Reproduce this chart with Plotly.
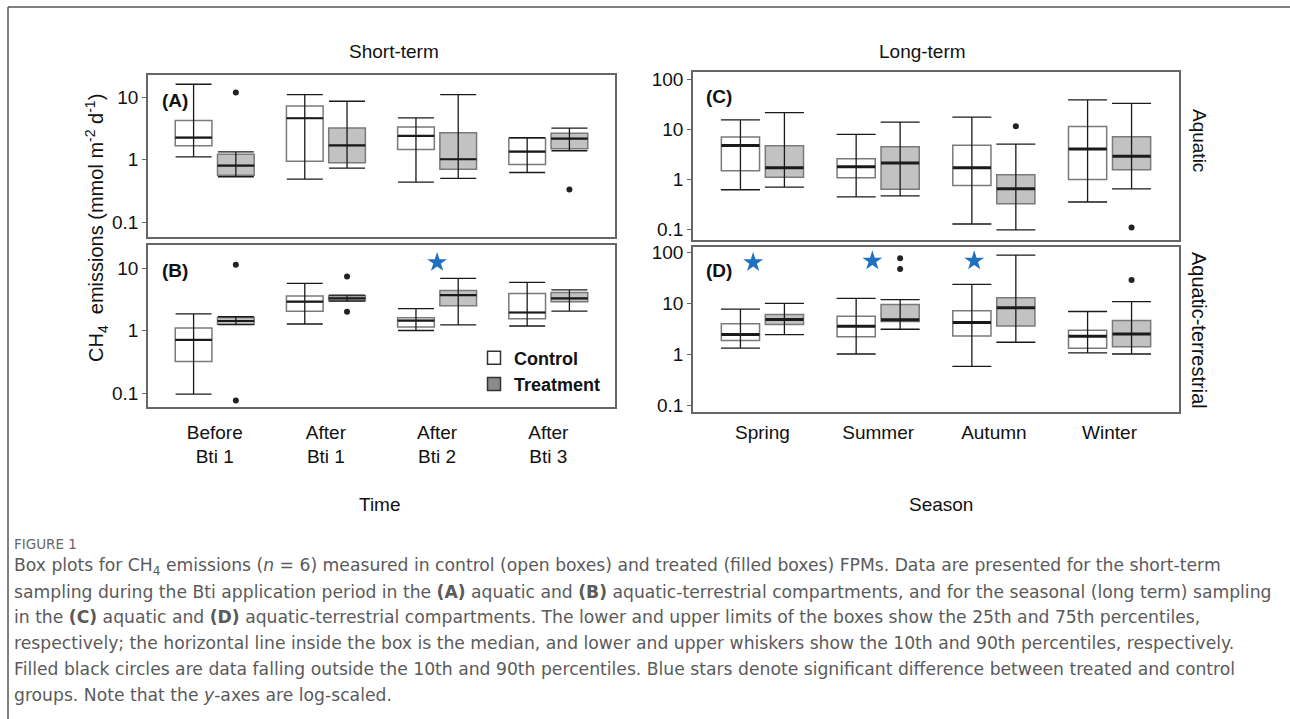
import plotly.graph_objects as go

W, H = 1290, 719

short_cats = ["Before<br>Bti 1", "After<br>Bti 1", "After<br>Bti 2", "After<br>Bti 3"]
long_cats = ["Spring", "Summer", "Autumn", "Winter"]

# ---- Panel A (short-term, aquatic)
A_ctrl_p10 = [1.10, 0.485, 0.435, 0.62]
A_ctrl_q1 = [1.66, 0.94, 1.45, 0.83]
A_ctrl_med = [2.24, 4.57, 2.38, 1.34]
A_ctrl_q3 = [4.2, 7.2, 3.3, 2.19]
A_ctrl_p90 = [16.0, 10.9, 4.62, 2.24]
A_trt_p10 = [0.53, 0.73, 0.50, 1.38]
A_trt_q1 = [0.56, 0.89, 0.70, 1.49]
A_trt_med = [0.80, 1.68, 1.01, 2.16]
A_trt_q3 = [1.21, 3.18, 2.69, 2.62]
A_trt_p90 = [1.32, 8.55, 10.9, 3.18]
A_trt_out_idx = [0, 3]
A_trt_out_val = [11.8, 0.33]

# ---- Panel B (short-term, aquatic-terrestrial)
B_ctrl_p10 = [0.096, 1.27, 1.0, 1.18]
B_ctrl_q1 = [0.32, 2.04, 1.14, 1.54]
B_ctrl_med = [0.71, 2.89, 1.44, 1.94]
B_ctrl_q3 = [1.10, 3.55, 1.6, 3.9]
B_ctrl_p90 = [1.85, 5.67, 2.24, 5.88]
B_trt_p10 = [1.24, 2.96, 1.23, 2.04]
B_trt_q1 = [1.26, 2.98, 2.5, 2.89]
B_trt_med = [1.42, 3.26, 3.67, 3.26]
B_trt_q3 = [1.62, 3.6, 4.35, 4.05]
B_trt_p90 = [1.66, 3.68, 6.8, 4.46]
B_trt_out_idx = [0, 0, 1, 1]
B_trt_out_val = [11.3, 0.076, 7.3, 1.99]
B_star_idx = [2]
B_star_val = [12.3]

# ---- Panel C (long-term, aquatic)
C_ctrl_p10 = [0.61, 0.44, 0.126, 0.347]
C_ctrl_q1 = [1.46, 1.06, 0.74, 0.98]
C_ctrl_med = [4.67, 1.75, 1.67, 3.96]
C_ctrl_q3 = [6.92, 2.55, 4.75, 11.2]
C_ctrl_p90 = [15.2, 7.8, 17.2, 38.2]
C_trt_p10 = [0.685, 0.46, 0.096, 0.635]
C_trt_q1 = [1.08, 0.625, 0.32, 1.53]
C_trt_med = [1.67, 2.1, 0.635, 2.84]
C_trt_q3 = [4.6, 4.4, 1.22, 7.03]
C_trt_p90 = [21.2, 13.7, 4.97, 32.4]
C_trt_out_idx = [2, 3]
C_trt_out_val = [11.4, 0.107]

# ---- Panel D (long-term, aquatic-terrestrial)
D_ctrl_p10 = [1.31, 1.0, 0.57, 1.05]
D_ctrl_q1 = [1.83, 2.19, 2.26, 1.29]
D_ctrl_med = [2.4, 3.51, 4.14, 2.23]
D_ctrl_q3 = [3.9, 5.52, 7.03, 2.92]
D_ctrl_p90 = [7.59, 12.3, 23.2, 6.82]
D_trt_p10 = [2.4, 3.06, 1.7, 1.0]
D_trt_q1 = [3.78, 4.33, 3.56, 1.39]
D_trt_med = [4.74, 4.67, 8.05, 2.48]
D_trt_q3 = [5.96, 9.37, 12.7, 4.54]
D_trt_p90 = [9.8, 11.7, 86.5, 10.6]
D_trt_out_idx = [1, 1, 3]
D_trt_out_val = [75.5, 46.5, 28.3]
D_star_idx = [0, 1, 2]
D_star_val = [62, 67, 67]

# ---------------- styling / layout constants
FONT = "Liberation Sans, Arial, sans-serif"
CAP_FONT = "DejaVu Sans, sans-serif"
OFF = 0.19
BW = 0.33
CTRL_FILL = "white"
TRT_FILL = "#c2c2c2"
BOX_LINE = "#7a7a7a"
STAR = "#1f70c1"


def px_x(p):
    return p / W


def px_y(p):
    return 1 - p / H


panels = [
    dict(ax="", xd=(148, 615), yd=(75, 237), yr=(-1.24, 1.352), tv=[0.1, 1, 10], cap=18, mw=2.2,
         ctrl=(A_ctrl_p10, A_ctrl_q1, A_ctrl_med, A_ctrl_q3, A_ctrl_p90),
         trt=(A_trt_p10, A_trt_q1, A_trt_med, A_trt_q3, A_trt_p90),
         out=(A_trt_out_idx, A_trt_out_val), star=None, star_off=None, lab="(A)", labpos=(160, 101),
         cats=None, standoff=0),
    dict(ax="2", xd=(148, 615), yd=(245, 407), yr=(-1.224, 1.368), tv=[0.1, 1, 10], cap=18, mw=2.2,
         ctrl=(B_ctrl_p10, B_ctrl_q1, B_ctrl_med, B_ctrl_q3, B_ctrl_p90),
         trt=(B_trt_p10, B_trt_q1, B_trt_med, B_trt_q3, B_trt_p90),
         out=(B_trt_out_idx, B_trt_out_val), star=(B_star_idx, B_star_val), star_off=[0.0],
         lab="(B)", labpos=(160, 270), cats=short_cats, standoff=7),
    dict(ax="3", xd=(693, 1179), yd=(72, 240), yr=(-1.22, 2.14), tv=[0.1, 1, 10, 100], cap=19.5, mw=3,
         ctrl=(C_ctrl_p10, C_ctrl_q1, C_ctrl_med, C_ctrl_q3, C_ctrl_p90),
         trt=(C_trt_p10, C_trt_q1, C_trt_med, C_trt_q3, C_trt_p90),
         out=(C_trt_out_idx, C_trt_out_val), star=None, star_off=None, lab="(C)", labpos=(704, 96),
         cats=None, standoff=0),
    dict(ax="4", xd=(693, 1179), yd=(247, 412), yr=(-1.137, 2.098), tv=[0.1, 1, 10, 100], cap=19.5, mw=3,
         ctrl=(D_ctrl_p10, D_ctrl_q1, D_ctrl_med, D_ctrl_q3, D_ctrl_p90),
         trt=(D_trt_p10, D_trt_q1, D_trt_med, D_trt_q3, D_trt_p90),
         out=(D_trt_out_idx, D_trt_out_val), star=(D_star_idx, D_star_val), star_off=[-0.08, -0.05, -0.17],
         lab="(D)", labpos=(704, 270), cats=long_cats, standoff=2),
]

fig = go.Figure()

for p in panels:
    xa = "x" + p["ax"]
    ya = "y" + p["ax"]
    for stats, sign, fill in ((p["ctrl"], -1, CTRL_FILL), (p["trt"], 1, TRT_FILL)):
        p10, q1, med, q3, p90 = stats
        xs = [i + sign * OFF for i in range(len(med))]
        fig.add_trace(go.Box(
            x=xs, q1=q1, median=med, q3=q3, lowerfence=q1, upperfence=q3,
            width=BW, fillcolor=fill, line=dict(color=BOX_LINE, width=1.5),
            whiskerwidth=0, boxpoints=False, showlegend=False, hoverinfo="skip",
            xaxis=xa, yaxis=ya))
    for stats, sign in ((p["ctrl"], -1), (p["trt"], 1)):
        p10, q1, med, q3, p90 = stats
        xs = [i + sign * OFF for i in range(len(med))]
        fig.add_trace(go.Scatter(
            x=xs, y=med, mode="markers",
            marker=dict(size=1, color="rgba(0,0,0,0)"),
            error_y=dict(type="data", symmetric=False,
                         array=[u - m for u, m in zip(p90, med)],
                         arrayminus=[m - l for m, l in zip(med, p10)],
                         color="#1a1a1a", thickness=1.3, width=p["cap"]),
            error_x=dict(type="data", array=[BW / 2] * len(med), color="#1a1a1a",
                         thickness=p["mw"], width=0),
            showlegend=False, hoverinfo="skip", xaxis=xa, yaxis=ya))
    oi, ov = p["out"]
    fig.add_trace(go.Scatter(
        x=[i + OFF for i in oi], y=ov, mode="markers",
        marker=dict(size=6, color="#222222"),
        showlegend=False, hoverinfo="skip", xaxis=xa, yaxis=ya))
    if p["star"]:
        si, sv = p["star"]
        fig.add_trace(go.Scatter(
            x=[i + o for i, o in zip(si, p["star_off"])], y=sv, mode="markers",
            marker=dict(symbol="star", size=15, color=STAR, line=dict(width=0)),
            showlegend=False, hoverinfo="skip", xaxis=xa, yaxis=ya))

# legend entries
fig.add_trace(go.Scatter(x=[None], y=[None], mode="markers", name="<b>Control</b>",
                         marker=dict(symbol="square", size=13, color="white",
                                     line=dict(color="#333333", width=1.5)),
                         xaxis="x2", yaxis="y2"))
fig.add_trace(go.Scatter(x=[None], y=[None], mode="markers", name="<b>Treatment</b>",
                         marker=dict(symbol="square", size=13, color="#8a8a8a",
                                     line=dict(color="#333333", width=1.5)),
                         xaxis="x2", yaxis="y2"))

layout = dict(
    width=W, height=H, margin=dict(l=0, r=0, t=0, b=0),
    template="none", paper_bgcolor="white", plot_bgcolor="white",
    font=dict(family=FONT, size=19, color="#111111"),
    showlegend=True,
    legend=dict(x=px_x(474), y=px_y(371), xanchor="left", yanchor="middle",
                bgcolor="rgba(0,0,0,0)", borderwidth=0, itemwidth=30,
                font=dict(family=FONT, size=18, color="#111111"), tracegroupgap=0),
)

for p in panels:
    k = p["ax"]
    xaxis = dict(
        domain=[px_x(p["xd"][0]), px_x(p["xd"][1])], range=[-0.6, 3.6],
        anchor="y" + k, showgrid=False, zeroline=False,
        showline=True, mirror=True, linecolor="#666666", linewidth=1.5,
        ticks="", automargin=False)
    if p["cats"]:
        xaxis.update(tickvals=[0, 1, 2, 3], ticktext=p["cats"], showticklabels=True,
                     ticklabelstandoff=p["standoff"],
                     tickfont=dict(family=FONT, size=19, color="#111111"))
    else:
        xaxis.update(showticklabels=False)
    layout["xaxis" + k] = xaxis
    layout["yaxis" + k] = dict(
        domain=[px_y(p["yd"][1]), px_y(p["yd"][0])], type="log", range=list(p["yr"]),
        anchor="x" + k, showgrid=False, zeroline=False,
        showline=True, mirror=True, linecolor="#666666", linewidth=1.5,
        ticks="outside", ticklen=4, tickwidth=1, tickcolor="#666666",
        tickvals=p["tv"], ticktext=[("%g" % v) for v in p["tv"]],
        tickfont=dict(family=FONT, size=19, color="#111111"), automargin=False)

fig.update_layout(**layout)

ann = []
for p in panels:
    ann.append(dict(text="<b>" + p["lab"] + "</b>", x=px_x(p["labpos"][0]), y=px_y(p["labpos"][1]),
                    xref="paper", yref="paper", xanchor="left", yanchor="middle", showarrow=False,
                    font=dict(family=FONT, size=19, color="#111111")))

texts = [
    ("Short-term", 394, 52, 0, 19), ("Long-term", 922, 52, 0, 19),
    ("Time", 380, 504, 0, 19), ("Season", 941, 504, 0, 19),
    ("CH<sub>4</sub>  emissions (mmol m<sup>-2</sup> d<sup>-1</sup>)", 97, 228, -90, 20),
    ("Aquatic", 1199, 140, 90, 19), ("Aquatic-terrestrial", 1199, 330, 90, 20),
]
for t, x, y, a, fs in texts:
    ann.append(dict(text=t, x=px_x(x), y=px_y(y), xref="paper", yref="paper",
                    xanchor="center", yanchor="middle", textangle=a, showarrow=False,
                    font=dict(family=FONT, size=fs, color="#111111")))

caption_title = "FIGURE 1"
caption_lines = [
    "Box plots for CH<sub>4</sub> emissions (<i>n</i> = 6) measured in control (open boxes) and treated (filled boxes) FPMs. Data are presented for the short-term",
    "sampling during the Bti application period in the <b>(A)</b> aquatic and <b>(B)</b> aquatic-terrestrial compartments, and for the seasonal (long term) sampling",
    "in the <b>(C)</b> aquatic and <b>(D)</b> aquatic-terrestrial compartments. The lower and upper limits of the boxes show the 25th and 75th percentiles,",
    "respectively; the horizontal line inside the box is the median, and lower and upper whiskers show the 10th and 90th percentiles, respectively.",
    "Filled black circles are data falling outside the 10th and 90th percentiles. Blue stars denote significant difference between treated and control",
    "groups. Note that the <i>y</i>-axes are log-scaled.",
]
ann.append(dict(text=caption_title, x=px_x(12), y=px_y(544), xref="paper", yref="paper",
                xanchor="left", yanchor="middle", showarrow=False,
                font=dict(family=CAP_FONT, size=13.5, color="#666666")))
for i, line in enumerate(caption_lines):
    ann.append(dict(text=line, x=px_x(12), y=px_y(566 + i * 25.7), xref="paper", yref="paper",
                    xanchor="left", yanchor="middle", showarrow=False,
                    font=dict(family=CAP_FONT, size=17.2, color="#5a5a5a")))

shapes = [
    dict(type="line", xref="paper", yref="paper", x0=px_x(8), x1=px_x(8), y0=px_y(7), y1=0,
         line=dict(color="#555555", width=1.5)),
    dict(type="line", xref="paper", yref="paper", x0=px_x(8), x1=1, y0=px_y(7), y1=px_y(7),
         line=dict(color="#555555", width=1.5)),
]
fig.update_layout(annotations=ann, shapes=shapes)

fig.write_html("out.html")
